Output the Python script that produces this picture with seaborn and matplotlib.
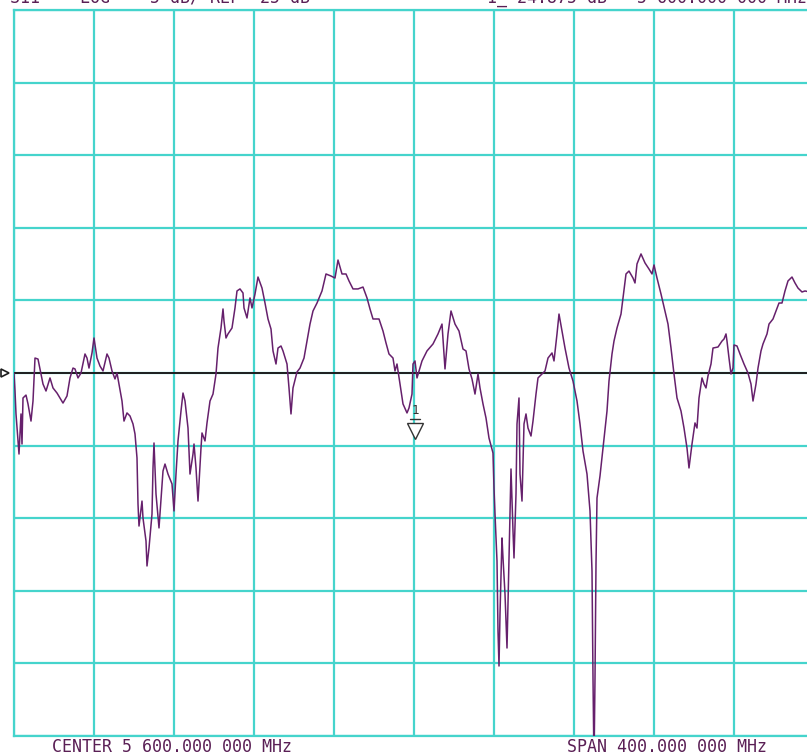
"""
plot.py

S11 sweep, network analyzer screen
"""

# import libs & settings
import matplotlib
matplotlib.use("Agg")
import matplotlib.pyplot as plt
import seaborn as sns

sns.set_style("white")
plt.rcParams['font.family'] = ['DejaVu Sans Mono', 'DejaVu Sans']

# data (MHz, dB)
freq = [5400, 5400.5, 5401, 5402.5, 5403.5, 5404, 5404.5, 5406, 5407, 5408.5,
        5409.5, 5410.5, 5412, 5413.5, 5414.5, 5416, 5418, 5419.5, 5421.5, 5423,
        5424.5, 5426.5, 5428, 5429.5, 5430.5, 5432, 5433.5, 5435.5, 5436.5, 5437.5,
        5439, 5440, 5441.5, 5443, 5444.5, 5446.5, 5447.5, 5449, 5450.5, 5451.5,
        5452.5, 5454, 5455, 5456.5, 5458, 5459.5, 5460.5, 5461.5, 5462, 5462.5,
        5464, 5464.5, 5466, 5466.5, 5467.5, 5469, 5469.5, 5470, 5471, 5472.5,
        5474.5, 5475.5, 5477, 5479, 5480, 5481, 5482, 5483.5, 5484.5, 5485.5,
        5487, 5488, 5489.5, 5490, 5491, 5492, 5493.5, 5494, 5495.5, 5496.5,
        5498, 5499.5, 5501, 5502, 5503.5, 5504.5, 5505, 5506, 5507, 5509,
        5510.5, 5511.5, 5513, 5514.5, 5515, 5516.5, 5518, 5519, 5520.5, 5522,
        5524, 5525.5, 5527, 5528.5, 5529.5, 5531, 5532, 5533.5, 5534.5, 5536.5,
        5537.5, 5538.5, 5539.5, 5541.5, 5543, 5545, 5546.5, 5548, 5549.5, 5551.5,
        5554, 5556, 5558.5, 5560.5, 5562, 5564, 5566, 5567.5, 5569.5, 5572,
        5574.5, 5576.5, 5578, 5579.5, 5582.5, 5584.5, 5586, 5587.5, 5589.5, 5590.5,
        5591.5, 5593, 5594.5, 5596.5, 5597.5, 5599, 5599.5, 5600.5, 5601.5, 5604,
        5606.5, 5609.5, 5612, 5614, 5615.5, 5617, 5618.5, 5620.5, 5622.5, 5624.5,
        5626, 5627.5, 5629, 5630.5, 5632, 5633, 5634.5, 5636, 5637.5, 5639.5,
        5640, 5640.5, 5641.5, 5642, 5642.5, 5643, 5644, 5644.5, 5645.5, 5646.5,
        5647, 5648.5, 5649.5, 5650, 5651, 5651.5, 5652.5, 5653, 5654, 5655,
        5656, 5657, 5658.5, 5659.5, 5661, 5662, 5664, 5665.5, 5667, 5669,
        5670, 5671.5, 5672.5, 5674, 5675.5, 5677.5, 5679.5, 5681.5, 5683, 5684.5,
        5686.5, 5688, 5689, 5689.5, 5690, 5690.5, 5691, 5691.5, 5693, 5694.5,
        5696.5, 5697.5, 5699, 5700, 5701.5, 5703.5, 5704.5, 5706, 5707.5, 5709.5,
        5710.5, 5711.5, 5713.5, 5715.5, 5717.5, 5719, 5720, 5721.5, 5723.5, 5725.5,
        5727, 5728.5, 5730, 5731.5, 5733.5, 5735, 5736.5, 5737.5, 5739, 5740.5,
        5741.5, 5742.5, 5744, 5745, 5746, 5747, 5748.5, 5749.5, 5752, 5754,
        5755, 5756, 5756.5, 5757.5, 5758.5, 5759.5, 5760, 5761.5, 5763, 5765,
        5767, 5768.5, 5769.5, 5771, 5772, 5773.5, 5774.5, 5776.5, 5777.5, 5779.5,
        5781, 5782.5, 5784, 5785.5, 5787, 5789, 5790.5, 5792, 5794, 5795.5,
        5800]

s11_db = [-25.00, -26.24, -27.82, -30.58, -27.82, -29.89, -26.72, -26.52, -27.13, -28.31,
          -26.93, -23.97, -24.04, -25.07, -25.76, -26.24, -25.34, -26.03, -26.38, -26.72,
          -27.07, -26.58, -25.34, -24.66, -24.72, -25.34, -25.00, -23.69, -23.97, -24.66,
          -23.62, -22.59, -23.97, -24.52, -24.86, -23.69, -23.97, -24.86, -25.41, -25.00,
          -25.76, -26.93, -28.31, -27.75, -27.96, -28.51, -29.20, -30.85, -34.02, -35.54,
          -33.82, -34.99, -36.57, -38.29, -37.05, -34.71, -31.54, -29.82, -33.33, -35.67,
          -31.75, -31.27, -31.96, -32.64, -34.50, -31.96, -29.68, -27.62, -26.38, -26.93,
          -28.79, -31.96, -30.58, -29.89, -31.54, -33.82, -30.17, -29.13, -29.68, -28.44,
          -26.93, -26.45, -25.07, -23.28, -21.90, -20.59, -21.42, -22.59, -22.31, -21.90,
          -20.52, -19.35, -19.21, -19.49, -20.52, -21.21, -19.83, -20.52, -19.56, -18.39,
          -19.15, -20.18, -21.28, -21.97, -23.48, -24.38, -23.28, -23.14, -23.48, -24.38,
          -26.03, -27.82, -26.03, -24.93, -24.66, -23.97, -22.80, -21.63, -20.73, -20.18,
          -19.35, -18.18, -18.32, -18.46, -17.22, -18.18, -18.18, -18.66, -19.21, -19.21,
          -19.08, -19.83, -20.59, -21.28, -21.28, -22.11, -22.93, -23.69, -23.97, -24.86,
          -24.38, -25.76, -27.13, -27.75, -27.41, -26.45, -24.38, -24.17, -25.34, -24.17,
          -23.48, -23.00, -22.31, -21.63, -24.72, -22.31, -20.73, -21.63, -22.11, -23.35,
          -23.48, -24.72, -25.41, -26.45, -25.07, -26.03, -27.13, -28.10, -29.48, -30.51,
          -32.92, -34.71, -37.95, -42.77, -45.18, -41.60, -36.36, -37.74, -40.22, -43.94,
          -40.91, -31.61, -35.88, -37.74, -33.33, -28.51, -26.72, -31.96, -33.82, -28.51,
          -27.82, -28.79, -29.34, -28.31, -26.45, -25.34, -25.07, -24.86, -23.97, -23.62,
          -24.17, -22.31, -20.94, -22.11, -23.28, -24.66, -25.55, -26.93, -28.51, -30.37,
          -31.96, -34.50, -38.64, -46.01, -52.00, -46.01, -38.15, -33.61, -32.09, -30.17,
          -27.62, -25.55, -23.69, -22.80, -21.90, -20.94, -19.83, -18.18, -17.98, -18.46,
          -18.80, -17.49, -16.80, -17.42, -17.84, -18.18, -17.56, -18.46, -19.56, -20.73,
          -21.63, -23.28, -25.07, -26.72, -27.62, -28.79, -30.17, -31.54, -29.89, -28.44,
          -28.79, -26.72, -25.34, -25.76, -26.03, -25.20, -24.38, -23.28, -23.21, -22.80,
          -22.66, -22.31, -22.80, -23.97, -25.07, -24.66, -23.07, -23.14, -23.69, -24.38,
          -25.00, -25.76, -26.93, -25.76, -24.66, -23.48, -23.00, -22.31, -21.63, -21.28,
          -20.73, -20.18, -20.18, -19.35, -18.66, -18.39, -18.80, -19.15, -19.42, -19.35,
          -19.49]

# marker 1 and reference position
marker_freq = 5600.5
marker_db = -29.0
ref_db = -25

header_left = "S11    LOG    5 dB/ REF -25 dB"
header_right = "1_-24.875 dB   5 600.000 000 MHz"
footer_left = "CENTER 5 600.000 000 MHz"
footer_right = "SPAN 400.000 000 MHz"

grid_col = "#45d4cc"
trace_col = "#66206c"
text_col = "#5a1f55"

# screen is cropped on the right, axes run past the figure edge
fig = plt.figure(figsize=(8.07, 7.56), dpi=100)
ax = fig.add_axes([14 / 807, 20 / 756, 800 / 807, 726 / 756])

ax.set_xlim(5400, 5800)
ax.set_ylim(-50, 0)
ax.set_xticks(range(5400, 5801, 40))
ax.set_yticks(range(-50, 1, 5))
ax.grid(True, color=grid_col, lw=1.6)
ax.tick_params(length=0, labelbottom=False, labelleft=False)
for sp in ax.spines.values():
    sp.set_color(grid_col)
    sp.set_linewidth(1.6)

# reference line + left arrow
ax.axhline(ref_db, color="#1e1e1e", lw=1.4, zorder=3)
ax.plot([5395.5], [ref_db], marker=">", ms=6, mfc="white", mec="#1e1e1e",
        mew=1.2, clip_on=False, zorder=4)

# trace
sns.lineplot(x=freq, y=s11_db, ax=ax, color=trace_col, lw=1.1, sort=False,
             estimator=None, zorder=5)

# marker 1
ax.plot([marker_freq], [marker_db], marker="v", ms=12, mfc="white", mec="#333333",
        mew=1.0, zorder=6)
ax.plot([marker_freq - 2.5, marker_freq + 2.5], [marker_db + 0.85, marker_db + 0.85],
        color="#333333", lw=1, zorder=6)
ax.text(marker_freq, marker_db + 1.0, "1", color="#333333", fontsize=9,
        ha="center", va="bottom", zorder=6)

# screen annotations (top line is cut by the screen edge, as on the capture)
fig.text(10 / 807, 1 - 3 / 756, header_left, color=text_col, fontsize=12,
         ha="left", va="baseline")
fig.text(487 / 807, 1 - 3 / 756, header_right, color=text_col, fontsize=12,
         ha="left", va="baseline")
fig.text(52 / 807, 1 - 752 / 756, footer_left, color=text_col, fontsize=12,
         ha="left", va="baseline")
fig.text(567 / 807, 1 - 752 / 756, footer_right, color=text_col, fontsize=12,
         ha="left", va="baseline")

fig.savefig("out.png", dpi=100)
